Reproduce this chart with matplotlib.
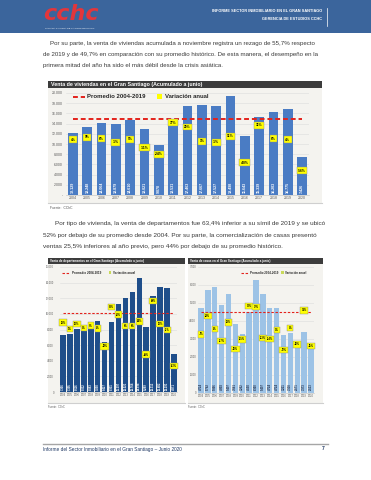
import matplotlib
matplotlib.use('Agg')
import matplotlib.pyplot as plt
from matplotlib.patches import Rectangle
from matplotlib.lines import Line2D

# ---- data ----
years = [str(y) for y in range(2004, 2021)]

viviendas = [12129, 13248, 14064, 13879, 14610, 13021, 9878, 13531, 17463,
             17667, 17527, 19498, 11643, 15339, 16203, 16775, 7426]
var_viviendas = [4, 9, 6, -1, 5, -11, -24, 37, 29, 1, -1, 11, -40, 32, 6, 4, -56]
prom_viviendas = 14905

deptos = [7306, 7395, 8116, 8332, 8883, 9098, 6427, 8931, 11297,
          12021, 12764, 14598, 8289, 12312, 13482, 13291, 4871]
var_deptos = [12, 1, 10, 3, 7, 2, -29, 39, 26, 6, 6, 14, -43, 49, 10, -1, -63]
prom_deptos = 10159

casas = [4724, 5742, 5866, 4903, 5497, 3841, 3262, 4500, 6300,
         5497, 4724, 4724, 3221, 3318, 2571, 3373, 2513]
var_casas = [-7, 22, 2, -17, 12, -30, -15, 38, 37, -13, -14, 0, -32, 3, -23, 31, -25]
prom_casas = 4510

par1 = ["Por su parte, la venta de viviendas acumulada a noviembre registra un rezago de 55,7% respecto",
        "de 2019 y de 49,7% en comparación con su promedio histórico. De esta manera, el desempeño en la",
        "primera mitad del año ha sido el más débil desde la crisis asiática."]
par2 = ["Por tipo de vivienda, la venta de departamentos fue 63,4% inferior a su símil de 2019 y se ubicó",
        "52% por debajo de su promedio desde 2004. Por su parte, la comercialización de casas presentó",
        "ventas 25,5% inferiores al año previo, pero 44% por debajo de su promedio histórico."]

W, H = 371, 480
plt.rcParams['font.family'] = ['Liberation Sans', 'DejaVu Sans']
fig = plt.figure(figsize=(W / 100, H / 100), dpi=100)
fig.patch.set_facecolor('white')
renderer = fig.canvas.get_renderer()


def fx(x):
    return x / W


def fy(y):
    return 1 - y / H


def rect(x0, y0, x1, y1, color, z=-1, **kw):
    fig.add_artist(Rectangle((fx(x0), fy(y1)), (x1 - x0) / W, (y1 - y0) / H,
                             transform=fig.transFigure, facecolor=color,
                             edgecolor='none', zorder=z, **kw))


def line(xs, ys, **kw):
    fig.add_artist(Line2D([fx(x) for x in xs], [fy(y) for y in ys],
                          transform=fig.transFigure, **kw))


def txt(x, y, s, **kw):
    kw.setdefault('va', 'center')
    return fig.text(fx(x), fy(y), s, **kw)


def axes_px(x0, y0, x1, y1):
    return fig.add_axes([fx(x0), fy(y1), (x1 - x0) / W, (y1 - y0) / H])


def fit_size(s, width, **kw):
    t = fig.text(0, 0, s, fontsize=10, **kw)
    w = t.get_window_extent(renderer).width
    t.remove()
    return 10 * width / w


def miles(v):
    return f"{v:,}".replace(",", ".")


# ---- header ----
rect(0, 0, W, 33, '#3b659c')
txt(43, 14.5, "cchc", fontsize=16, fontweight='bold', color='#e3363b',
    family='DejaVu Sans', style='italic')
txt(45, 28.5, "CÁMARA CHILENA DE LA CONSTRUCCIÓN", fontsize=1.7, color='white')
txt(322, 11, "INFORME SECTOR INMOBILIARIO EN EL GRAN SANTIAGO", fontsize=2.8,
    fontweight='bold', color='white', ha='right')
txt(322, 18.5, "GERENCIA DE ESTUDIOS CCHC", fontsize=2.8, fontweight='bold',
    color='white', ha='right')
line([327, 327], [8, 26], color='white', lw=0.5)

# ---- body text ----
s1 = min(fit_size(par1[0], 272), fit_size(par1[1], 279))
for s, x, y in zip(par1, [50, 43, 43], [43.5, 54.5, 65.5]):
    txt(x, y, s, fontsize=s1, color='#3a3a3a')
s2 = min(fit_size(par2[0], 273), fit_size(par2[1], 285))
for s, x, y in zip(par2, [55, 43, 43], [224, 235.5, 247]):
    txt(x, y, s, fontsize=s2, color='#3a3a3a')


def bar_chart(ax_box, vals, var, prom, ymax, ystep, var_lim, bar_color,
              val_color, bw, fs, zero, pad, lw_line, dash):
    ax = axes_px(*ax_box)
    ax.set_facecolor('none')
    xs = list(range(len(years)))
    ax.bar(xs, vals, width=bw, color=bar_color, zorder=2)
    ax.plot(xs, [prom] * len(xs), color='#e3221c', lw=lw_line, dashes=dash, zorder=3)
    ax.set_xlim(-0.5, len(years) - 0.5)
    ax.set_ylim(0, ymax)
    ticks = list(range(0, ymax + 1, ystep))
    ax.set_yticks(ticks)
    ax.set_yticklabels([zero if t == 0 else miles(t) for t in ticks])
    ax.set_xticks(xs)
    ax.set_xticklabels(years)
    ax.grid(axis='y', color='#dcdcdc', lw=0.4)
    ax.set_axisbelow(True)
    for side in ['top', 'right', 'left']:
        ax.spines[side].set_visible(False)
    ax.spines['bottom'].set_color('#c8c8c8')
    ax.spines['bottom'].set_linewidth(0.5)
    ax.tick_params(length=0, labelsize=fs, colors='#595959', pad=pad)
    ax.tick_params(axis='x', pad=1)
    for i, v in enumerate(vals):
        ax.text(i, ymax * 0.018, miles(v), rotation=90, ha='center', va='bottom',
                color=val_color, fontsize=fs * 1.05, fontweight='bold', zorder=4)
    ax2 = ax.twinx()
    ax2.set_ylim(*var_lim)
    ax2.axis('off')
    for i, p in enumerate(var):
        ax2.text(i, p, f"{p}%", ha='center', va='center', fontsize=fs * 0.95,
                 fontweight='bold', color='black', zorder=5,
                 bbox=dict(boxstyle='square,pad=0.45', facecolor='#ffff00',
                           edgecolor='#8c8c8c', linewidth=0.3))
    return ax


# ---- main chart: viviendas ----
rect(48, 81, 322, 203, '#f4f3ef', z=-2)
line([48, 322], [203.3, 203.3], color='#cfcfcf', lw=0.8)
rect(48, 81, 322, 88, '#3c3c3c')
txt(51, 84.6, "Venta de viviendas en el Gran Santiago (Acumulado a junio)",
    fontsize=3.8, fontweight='bold', color='white')
bar_chart((65.8, 93, 309.2, 195), viviendas, var_viviendas, prom_viviendas,
          20000, 2000, (-103, 95), '#4a7cc4', 'white', 0.68, 2.5, '-', 2,
          1.4, (2.5, 1.5))
line([73, 85], [96.8, 96.8], color='#e3221c', lw=1.4, dashes=(2.5, 1.5))
txt(87, 96.8, "Promedio 2004-2019", fontsize=4.3, fontweight='bold', color='#262626')
rect(157, 94.3, 162, 99.3, '#ffff00', z=3)
txt(165, 96.8, "Variación anual", fontsize=4.3, fontweight='bold', color='#262626')
txt(50, 207.5, "Fuente:  CChC", fontsize=2.4, color='#595959')

# ---- small charts ----
for x0, x1, title in [(48, 185, "Venta de departamentos en el Gran Santiago (Acumulado a junio)"),
                      (188, 323, "Venta de casas en el Gran Santiago (Acumulado a junio)")]:
    rect(x0, 258, x1, 403, '#f4f3ef', z=-2)
    line([x0, x1], [403.3, 403.3], color='#cfcfcf', lw=0.8)
    rect(x0, 258, x1, 264, '#3c3c3c')
    txt(x0 + 2, 261, title, fontsize=2.2, fontweight='bold', color='white')
    txt(x0, 406.5, "Fuente:  CChC", fontsize=1.8, color='#595959')

bar_chart((59.5, 267, 177.5, 392), deptos, var_deptos, prom_deptos,
          16000, 2000, (-107.6, 107.9), '#1f4e8a', 'white', 0.8, 1.9, '0', 4,
          0.8, (2.2, 1.5))
line([62, 70], [272.7, 272.7], color='#e3221c', lw=0.8, dashes=(2.2, 1.5))
txt(72, 272.7, "Promedio 2004-2019", fontsize=2.2, fontweight='bold', color='#262626')
rect(108.5, 271.2, 111.5, 274.2, '#c9d95a', z=3)
txt(113, 272.7, "Variación anual", fontsize=2.2, fontweight='bold', color='#262626')

bar_chart((197.6, 267, 314.4, 392.7), casas, var_casas, prom_casas,
          7000, 1000, (-99.5, 100), '#9dc3e6', '#1f2d4a', 0.78, 1.9, '0', 1,
          0.8, (2.2, 1.5))
line([241, 248], [272.7, 272.7], color='#e3221c', lw=0.8, dashes=(2.2, 1.5))
txt(250, 272.7, "Promedio 2004-2019", fontsize=2.1, fontweight='bold', color='#262626')
rect(280.5, 271.2, 283.5, 274.2, '#c9d95a', z=3)
txt(285, 272.7, "Variación anual", fontsize=2.1, fontweight='bold', color='#262626')

# ---- footer ----
line([43, 328], [444, 444], color='#a6a6a6', lw=1.0)
txt(43, 449, "Informe del Sector Inmobiliario en el Gran Santiago \u2013 Junio 2020",
    fontsize=3.4, color='#1f3864')
txt(325, 449, "7", fontsize=3.6, fontweight='bold', color='#1f3864', ha='right')

fig.savefig('out.png', dpi=100)
